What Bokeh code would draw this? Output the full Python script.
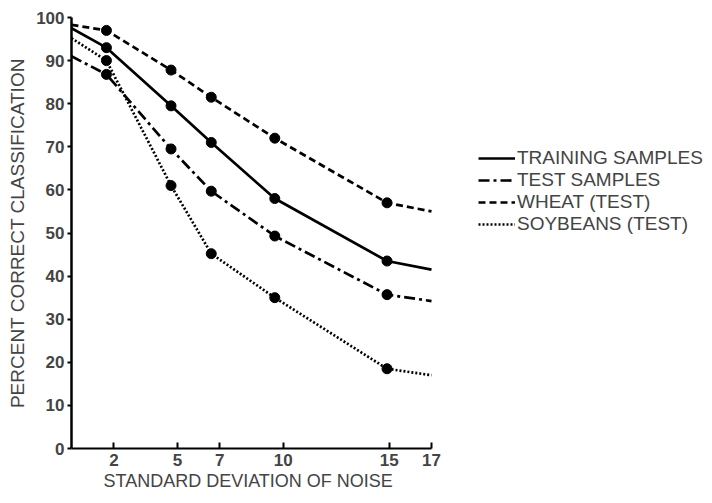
from bokeh.plotting import figure
from bokeh.models import FixedTicker, Legend, LegendItem, Range1d, Title
from bokeh.embed import file_html
from bokeh.resources import INLINE

# Noise levels at which each curve is sampled (first/last are curve ends, no marker)
noise_sd = [0, 1.65, 4.7, 6.6, 9.6, 14.9, 17]

training_samples = [97.5, 93.0, 79.5, 71.0, 58.0, 43.5, 41.5]
test_samples = [91.0, 86.8, 69.5, 59.7, 49.3, 35.7, 34.2]
wheat_test = [98.3, 97.0, 87.8, 81.5, 72.0, 57.0, 55.0]
soybeans_test = [95.2, 90.0, 61.0, 45.2, 35.0, 18.5, 17.0]

x_ticks = [2, 5, 7, 10, 15, 17]
y_ticks = list(range(0, 101, 10))

series = [
    ("TRAINING SAMPLES", training_samples, "solid"),
    ("TEST SAMPLES", test_samples, "11 4 3 4"),
    ("WHEAT (TEST)", wheat_test, "7 4"),
    ("SOYBEANS (TEST)", soybeans_test, "2 2"),
]

FONT = "Liberation Sans"
W, H = 712, 503
LEFT, BOTTOM, TOP = 71, 55, 17
X_MAX = 17
AXIS_PX = 360  # pixel length of the 0..17 noise axis

# The frame runs to the right edge so the legend has room beside the curves;
# the x axis itself is bounded to 0..17.
x_end = X_MAX * (W - LEFT) / AXIS_PX

p = figure(
    width=W, height=H,
    x_range=Range1d(0, x_end), y_range=Range1d(0, 100),
    output_backend="svg", toolbar_location=None,
    min_border_left=LEFT, min_border_right=0,
    min_border_top=TOP, min_border_bottom=BOTTOM,
)
p.outline_line_color = None
p.xgrid.grid_line_color = None
p.ygrid.grid_line_color = None
p.background_fill_color = "white"

items = []
for name, vals, dash in series:
    r = p.line(noise_sd, vals, line_color="black", line_width=2.7, line_dash=dash)
    p.scatter(noise_sd[1:-1], vals[1:-1], size=10, marker="circle",
              fill_color="black", line_color="black")
    items.append(LegendItem(label=name, renderers=[r]))

# x axis
xa = p.xaxis[0]
xa.bounds = (0, X_MAX)
xa.ticker = FixedTicker(ticks=x_ticks)
xa.axis_line_color = "black"
xa.axis_line_width = 2
xa.major_tick_in = 6
xa.major_tick_out = 0
xa.major_tick_line_width = 2
xa.minor_tick_line_color = None
xa.major_label_text_font = FONT
xa.major_label_text_font_style = "bold"
xa.major_label_text_font_size = "17px"
xa.major_label_standoff = 5

p.add_layout(Title(text="STANDARD DEVIATION OF NOISE", align="left", offset=32,
                   text_font=FONT, text_font_size="18px",
                   text_font_style="normal", standoff=0), "below")

# y axis
ya = p.yaxis[0]
ya.ticker = FixedTicker(ticks=y_ticks)
ya.axis_line_color = "black"
ya.axis_line_width = 2.5
ya.major_tick_in = 0
ya.major_tick_out = 4
ya.major_tick_line_width = 2
ya.minor_tick_line_color = None
ya.major_label_text_font = FONT
ya.major_label_text_font_style = "bold"
ya.major_label_text_font_size = "17px"
ya.major_label_standoff = 3
ya.axis_label = "PERCENT CORRECT CLASSIFICATION"
ya.axis_label_text_font = FONT
ya.axis_label_text_font_style = "normal"
ya.axis_label_text_font_size = "19px"
ya.axis_label_standoff = 5

legend = Legend(
    items=items,
    location=(407, 213),
    orientation="vertical",
    padding=0, margin=0, spacing=-2,
    glyph_width=37, glyph_height=18, label_height=18,
    label_standoff=2,
    label_text_font=FONT, label_text_font_size="19px",
    border_line_color=None, background_fill_alpha=0,
)
p.add_layout(legend, "center")

open("out.html", "w").write(file_html(p, INLINE))
